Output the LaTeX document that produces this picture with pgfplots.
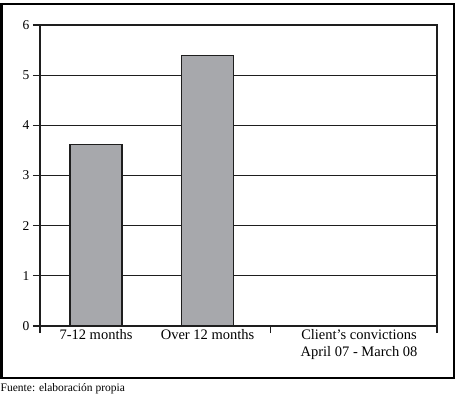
\documentclass[border=0pt]{standalone}
\usepackage{fontspec}
\setmainfont{Liberation Serif}
\usepackage{pgfplots}
\pgfplotsset{compat=1.18}
\definecolor{bargray}{RGB}{167,168,172}
\definecolor{linecol}{RGB}{30,30,30}
\begin{document}
\begin{tikzpicture}[x=1pt,y=1pt]
\useasboundingbox (0,0) rectangle (457,397);
\draw[line width=2.5pt, black] (1.4,19.2) rectangle (453.8,393);
\node[anchor=base west, inner sep=0pt, font=\fontsize{11.5}{13}\selectfont] at (0.5,6) {Fuente: elaboración propia};
\begin{axis}[
  at={(40pt,71pt)}, anchor=south west,
  scale only axis, width=397pt, height=301pt,
  xmin=-0.502, xmax=3.058, ymin=0, ymax=6,
  ytick={0,1,2,3,4,5,6},
  ymajorgrids, grid style={linecol, line width=1.1pt},
  axis line style={linecol, line width=1.1pt},
  tick style={linecol, line width=1.1pt},
  tick align=outside, major tick length=7pt,
  ytick pos=left, xtick pos=bottom,
  xtick={-0.502,1.561,3.058}, xticklabels={,,},
  extra x ticks={0,1,2.359},
  extra x tick labels={7-12 months,Over 12 months,{Client’s convictions\\April 07 - March 08}},
  extra x tick style={major tick length=0pt, xticklabel style={align=center, font=\fontsize{14.5}{17}\selectfont, text=black}},
  /pgf/number format/assume math mode=true,
  yticklabel style={font=\fontsize{13.5}{16}\selectfont, text=black},
  ybar, bar width=52pt, bar shift=0pt,
  clip=false,
]
\addplot[fill=bargray, draw=linecol, line width=1.1pt] coordinates {(0,3.62) (1,5.40)};
\end{axis}
\end{tikzpicture}
\end{document}
